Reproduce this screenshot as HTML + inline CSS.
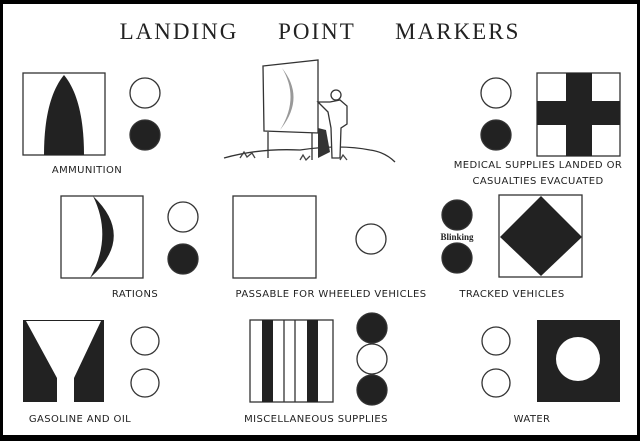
<!DOCTYPE html>
<html><head><style>
html,body{margin:0;padding:0;background:#000;}
svg{display:block}
text{font-family:"DejaVu Sans","Liberation Sans",sans-serif;font-size:10px;fill:#222;letter-spacing:0.4px}
</style></head><body>
<svg width="640" height="441" viewBox="0 0 640 441" xmlns="http://www.w3.org/2000/svg">
<rect x="0" y="0" width="640" height="441" fill="#000"/>
<rect x="3" y="4" width="634" height="431" fill="#fff"/>
<text x="320" y="39" text-anchor="middle" style="font-family:'Liberation Serif',serif;font-size:23px;letter-spacing:2px;word-spacing:32px;fill:#222">LANDING POINT MARKERS</text>
<g stroke="#333" stroke-width="1.3" fill="none">
<rect x="23" y="73" width="82" height="82" fill="#fff"/>
<path d="M44 155 C44 120 50 92 64 75 C78 92 84 120 84 155 Z" fill="#222" stroke="none"/>
<circle cx="145" cy="93" r="15" fill="#fff"/>
<circle cx="145" cy="135" r="15" fill="#222"/>
<circle cx="496" cy="93" r="15" fill="#fff"/>
<circle cx="496" cy="135" r="15" fill="#222"/>
<rect x="537" y="73" width="83" height="83" fill="#fff"/>
<rect x="566" y="73" width="26" height="83" fill="#222" stroke="none"/>
<rect x="537" y="101" width="83" height="24" fill="#222" stroke="none"/>
<rect x="61" y="196" width="82" height="82" fill="#fff"/>
<path d="M93 196 Q136 237 90 278 Q113 237 93 196 Z" fill="#222" stroke="none"/>
<circle cx="183" cy="217" r="15" fill="#fff"/>
<circle cx="183" cy="259" r="15" fill="#222"/>
<rect x="233" y="196" width="83" height="82" fill="#fff"/>
<circle cx="371" cy="239" r="15" fill="#fff"/>
<circle cx="457" cy="215" r="15" fill="#222"/>
<circle cx="457" cy="258" r="15" fill="#222"/>
<rect x="499" y="195" width="83" height="82" fill="#fff"/>
<path d="M541 196 L582 237 L541 276 L500 237 Z" fill="#222" stroke="none"/>
<rect x="23" y="320" width="81" height="82" fill="#222" stroke="none"/>
<path d="M26 321 L101 321 L74 378 L74 402 L57 402 L57 378 Z" fill="#fff" stroke="none"/>
<circle cx="145" cy="341" r="14" fill="#fff"/>
<circle cx="145" cy="383" r="14" fill="#fff"/>
<rect x="250" y="320" width="83" height="82" fill="#fff"/>
<rect x="262" y="320" width="11" height="82" fill="#222" stroke="none"/>
<rect x="307" y="320" width="11" height="82" fill="#222" stroke="none"/>
<line x1="284" y1="320" x2="284" y2="402"/>
<line x1="295" y1="320" x2="295" y2="402"/>
<circle cx="372" cy="328" r="15" fill="#222"/>
<circle cx="372" cy="359" r="15" fill="#fff"/>
<circle cx="372" cy="390" r="15" fill="#222"/>
<circle cx="496" cy="341" r="14" fill="#fff"/>
<circle cx="496" cy="383" r="14" fill="#fff"/>
<rect x="537" y="320" width="83" height="82" fill="#222" stroke="none"/>
<circle cx="578" cy="359" r="22" fill="#fff" stroke="none"/>
<!-- illustration -->
<path d="M263 66 L318 60 L318 133 L264 131 Z" fill="#fff"/>
<path d="M282 68 Q306 98 280 130 Q300 98 282 68 Z" fill="#999" stroke="none"/>
<line x1="268" y1="132" x2="268" y2="158"/>
<line x1="312" y1="133" x2="312" y2="160"/>
<path d="M224 158 Q260 148 300 150 Q340 144 370 150 Q385 152 395 162"/>
<path d="M318 102 L328 112 L331 128 L332 158 L340 158 L341 128 L347 124 L347 106 L340 100 L330 102 Z" fill="#fff"/>
<circle cx="336" cy="95" r="5" fill="#fff"/>
<path d="M318 128 L326 130 L330 152 L318 158 Z" fill="#333" stroke="none"/>
<path d="M240 158 l4 -6 l3 5 l5 -4 l3 5 M300 160 l3 -5 l3 5 l4 -4 M340 160 l3 -5 l4 5" stroke="#444"/>
</g>
<text x="87" y="173" text-anchor="middle">AMMUNITION</text>
<text x="538" y="168" text-anchor="middle">MEDICAL SUPPLIES LANDED OR</text>
<text x="538" y="184" text-anchor="middle">CASUALTIES EVACUATED</text>
<text x="135" y="297" text-anchor="middle">RATIONS</text>
<text x="331" y="297" text-anchor="middle">PASSABLE FOR WHEELED VEHICLES</text>
<text x="512" y="297" text-anchor="middle">TRACKED VEHICLES</text>
<text x="457" y="240" text-anchor="middle" style="font-family:'Liberation Serif',serif;font-size:9px;font-weight:bold;letter-spacing:0">Blinking</text>
<text x="80" y="422" text-anchor="middle">GASOLINE AND OIL</text>
<text x="316" y="422" text-anchor="middle">MISCELLANEOUS SUPPLIES</text>
<text x="532" y="422" text-anchor="middle">WATER</text>
</svg>
</body></html>
